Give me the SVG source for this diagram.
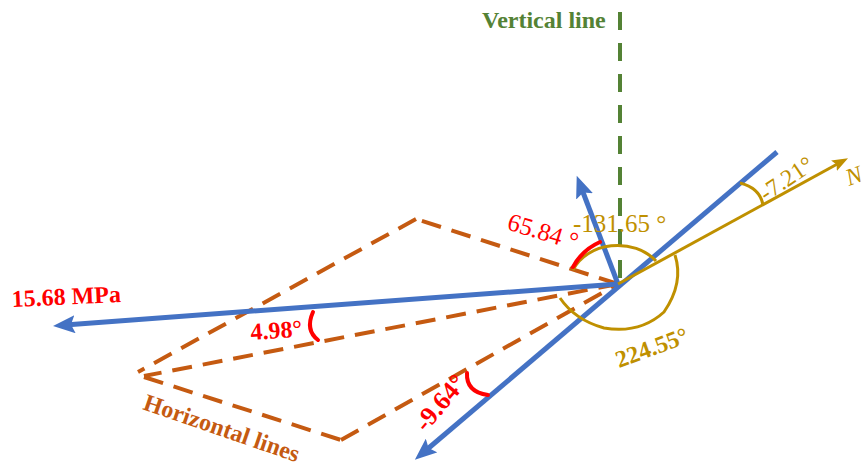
<svg xmlns="http://www.w3.org/2000/svg" width="865" height="462" viewBox="0 0 865 462">
<style>
.dash{fill:none;stroke:#C55A11;stroke-width:4;stroke-dasharray:20 11}
.vdash{fill:none;stroke:#548235;stroke-width:4;stroke-dasharray:18 13}
.blue{fill:none;stroke:#4472C4;stroke-width:5}
.gold{fill:none;stroke:#BF9000;stroke-width:3}
.redarc{fill:none;stroke:#FF0000;stroke-width:4;stroke-linecap:round}
.t{font-family:"Liberation Serif","Times New Roman",serif;font-size:24px}
.b{font-weight:bold}
.red{fill:#FF0000}
.gt{fill:#BF9000}
.ot{fill:#C55A11}
.gr{fill:#548235}
</style>
<defs>
<marker id="ab" markerUnits="userSpaceOnUse" markerWidth="24" markerHeight="18" viewBox="0 0 24 18" refX="10" refY="9" orient="auto">
<path d="M0,0 L22,9 L0,18 L4,9 z" fill="#4472C4"/>
</marker>
<marker id="ag" markerUnits="userSpaceOnUse" markerWidth="18" markerHeight="14" viewBox="0 0 18 14" refX="8" refY="7" orient="auto">
<path d="M0,1 L16,7 L0,13 L3,7 z" fill="#BF9000"/>
</marker>
</defs>
<g id="connectors">
<path class="dash" d="M618 284 L416 219"/>
<path class="dash" d="M416 219 L138 372"/>
<path class="dash" d="M618 284 L144 376"/>
<path class="dash" d="M144 377 L341 440"/>
<path class="dash" d="M341 440 L618 284"/>
<path class="vdash" d="M620 12 L620 284"/>
<path class="blue" d="M618 284 L65 325" marker-end="url(#ab)"/>
<path class="blue" d="M777 152 L424 452" marker-end="url(#ab)"/>
<path class="blue" d="M618 284 L581 187" marker-end="url(#ab)"/>
<path class="gold" d="M618 284 L841 162" marker-end="url(#ag)"/>
</g>
<g id="arcs">
<path class="gold" d="M573 270 A 48 39 0 0 1 656 261"/>
<path class="gold" d="M675 255 Q 684 283 664 312 Q 640 334 604 328 Q 575 320 560 298"/>
<path class="gold" d="M740 183 Q 760 188 763 205"/>
<path class="redarc" d="M573 267 Q 582 250 600 242"/>
<path class="redarc" d="M313 312 Q 305 330 318 340"/>
<path class="redarc" d="M467 373 Q 466 392 488 395"/>
</g>
<g id="labels">
<text class="t b gr" x="482" y="28">Vertical line</text>
<text class="t b red" x="12" y="307" transform="rotate(-2.6 12 307)">15.68 MPa</text>
<text class="t b red" x="251" y="340" transform="rotate(-4 251 340)">4.98°</text>
<text class="t red" x="506" y="229" font-size="25" transform="rotate(17 506 229)" style="font-size:25px">65.84 °</text>
<text class="t gt" x="573" y="232" style="font-size:25px">-131.65 °</text>
<text class="t b gt" x="619" y="368" transform="rotate(-20 619 368)">224.55°</text>
<text class="t gt" x="766" y="202" transform="rotate(-34 766 202)">-7.21°</text>
<text class="t gt" font-style="italic" x="849" y="186" transform="rotate(-20 849 186)">N</text>
<text class="t b red" x="426" y="433" transform="rotate(-50 426 433)" style="font-size:26px">-9.64°</text>
<text class="t b ot" x="142" y="409" transform="rotate(19 142 409)">Horizontal lines</text>
</g>
</svg>
